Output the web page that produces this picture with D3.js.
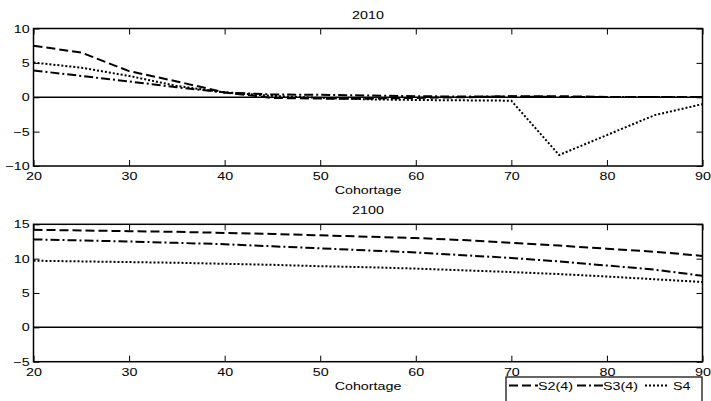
<!DOCTYPE html>
<html>
<head>
<meta charset="utf-8">
<script src="https://cdn.jsdelivr.net/npm/d3@7"></script>
<style>
  body { margin: 0; background: #fff; }
  svg { display: block; }
  text { font-family: "Liberation Sans", Arial, sans-serif; font-size: 11px; fill: #000; }
</style>
</head>
<body>
<script>
// cohort ages on the x axis
const ages = [20, 25, 30, 35, 40, 45, 50, 55, 60, 65, 70, 75, 80, 85, 90];

// 2010 panel
const s2_2010 = [7.5, 6.5, 3.8, 2.3, 0.7, -0.1, -0.2, -0.2, -0.1, 0, 0.15, 0.15, 0.05, 0.05, 0.05];
const s3_2010 = [3.9, 3.1, 2.3, 1.45, 0.7, 0.4, 0.35, 0.25, 0.15, 0.1, 0.1, 0.05, 0.05, 0.05, 0.05];
const s4_2010 = [5.05, 4.3, 3.1, 1.65, 0.7, 0.2, -0.1, -0.3, -0.4, -0.45, -0.5, -8.4, -5.5, -2.6, -1.0];

// 2100 panel
const s2_2100 = [14.2, 14.1, 14.0, 13.9, 13.75, 13.6, 13.4, 13.2, 13.0, 12.7, 12.3, 11.9, 11.45, 11.0, 10.4];
const s3_2100 = [12.8, 12.65, 12.5, 12.3, 12.1, 11.8, 11.5, 11.2, 10.9, 10.5, 10.1, 9.6, 9.0, 8.4, 7.5];
const s4_2100 = [9.7, 9.6, 9.5, 9.4, 9.25, 9.1, 8.9, 8.75, 8.55, 8.3, 8.05, 7.75, 7.4, 7.0, 6.6];

const seriesNames = ['S2(4)', 'S3(4)', 'S4'];
const xTicks = [20, 30, 40, 50, 60, 70, 80, 90];
const yTicks2010 = [-10, -5, 0, 5, 10];
const yTicks2100 = [-5, 0, 5, 10, 15];
const xLabel = 'Cohortage';

const W = 711, H = 401;
const SX = 1.3; // picture is stretched sideways
const dashes = ['9,4', '9,3,2,3', '2,2'];

const svg = d3.select('body').append('svg')
  .attr('width', W)
  .attr('height', H);

const x = d3.scaleLinear().domain([20, 90]).range([33.5, 702.5]);

function stretchedText(g, px, py, str, anchor) {
  return g.append('text')
    .attr('transform', `translate(${px},${py}) scale(${SX},1)`)
    .attr('text-anchor', anchor || 'middle')
    .text(str);
}

function panel(title, series, yDomain, yTicks, top, bottom) {
  const y = d3.scaleLinear().domain(yDomain).range([bottom, top]);
  const g = svg.append('g');

  // axes with inward ticks on all four sides
  const ax = [
    [d3.axisBottom(x).tickValues(xTicks).tickFormat(d3.format('d')), `translate(0,${bottom})`],
    [d3.axisTop(x).tickValues(xTicks).tickFormat(''), `translate(0,${top})`],
    [d3.axisLeft(y).tickValues(yTicks).tickFormat(d3.format('d')), `translate(${x.range()[0]},0)`],
    [d3.axisRight(y).tickValues(yTicks).tickFormat(''), `translate(${x.range()[1]},0)`]
  ];
  ax.forEach(([a, tr], i) => {
    const ag = g.append('g')
      .attr('transform', tr)
      .call(a.tickSizeInner(-6).tickSizeOuter(0).tickPadding(i === 2 ? 3 : 5));
    ag.select('.domain').remove();
    ag.selectAll('line').attr('stroke', '#000').attr('stroke-width', 1);
    ag.selectAll('text')
      .attr('fill', '#000')
      .style('font-size', '11px')
      .style('font-family', '"Liberation Sans", Arial, sans-serif')
      .attr('transform', `scale(${SX},1)`);
    if (i === 0) ag.selectAll('text').attr('dy', '0.85em');
  });

  // zero line
  g.append('line')
    .attr('x1', x.range()[0]).attr('x2', x.range()[1])
    .attr('y1', y(0)).attr('y2', y(0))
    .attr('stroke', '#000')
    .attr('stroke-width', 1.5);

  const line = d3.line()
    .x((d, i) => x(ages[i]))
    .y(d => y(d));

  g.selectAll('.series')
    .data(series)
    .enter()
    .append('path')
    .attr('class', 'series')
    .attr('d', line)
    .attr('fill', 'none')
    .attr('stroke', '#000')
    .attr('stroke-width', 2)
    .attr('stroke-dasharray', (d, i) => dashes[i]);

  // box
  g.append('rect')
    .attr('x', x.range()[0]).attr('y', top)
    .attr('width', x.range()[1] - x.range()[0])
    .attr('height', bottom - top)
    .attr('fill', 'none')
    .attr('stroke', '#000')
    .attr('stroke-width', 1.5);

  const cx = (x.range()[0] + x.range()[1]) / 2;
  stretchedText(g, cx, top - 10, title);
  stretchedText(g, cx, bottom + 28, xLabel);
}

panel('2010', [s2_2010, s3_2010, s4_2010], [-10, 10], yTicks2010, 28.5, 166);
panel('2100', [s2_2100, s3_2100, s4_2100], [-5, 15], yTicks2100, 224.3, 361.7);

// legend
const legend = svg.append('g');
legend.append('rect')
  .attr('x', 506).attr('y', 377)
  .attr('width', 196).attr('height', 40)
  .attr('fill', '#fff')
  .attr('stroke', '#000')
  .attr('stroke-width', 1.2);

const legendItems = [
  { x1: 509, x2: 538, tx: 538 },
  { x1: 577, x2: 603, tx: 603 },
  { x1: 645, x2: 668, tx: 673 }
];
legendItems.forEach((it, i) => {
  legend.append('line')
    .attr('x1', it.x1).attr('x2', it.x2)
    .attr('y1', 385.5).attr('y2', 385.5)
    .attr('stroke', '#000')
    .attr('stroke-width', 2)
    .attr('stroke-dasharray', dashes[i]);
  stretchedText(legend, it.tx, 389.5, seriesNames[i], 'start');
});
</script>
</body>
</html>
